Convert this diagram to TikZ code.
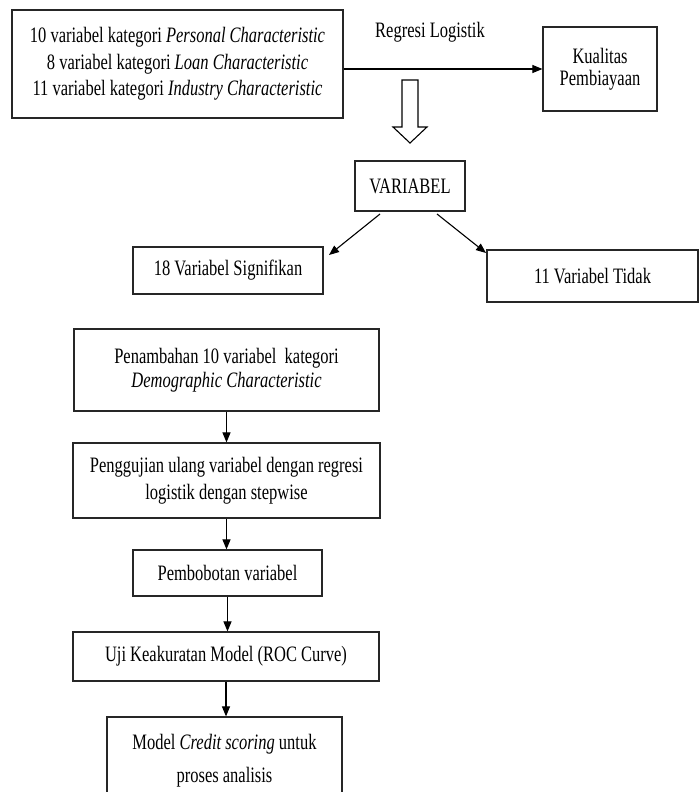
\documentclass[tikz,border=0pt]{standalone}
\usepackage{fontspec}
\setmainfont{Liberation Serif}[FakeStretch=0.75]
\usetikzlibrary{arrows.meta}
\begin{document}
\begin{tikzpicture}[x=1pt,y=-1pt,
  box/.style={draw=black!85, line width=1.2pt, align=center, inner sep=0pt,
    font=\fontsize{22}{26.5}\selectfont},
  arr/.style={line width=1.1pt, -{Triangle[length=10pt,width=8pt]}},
  lbl/.style={font=\fontsize{22}{26.5}\selectfont}]
\useasboundingbox (0,0) rectangle (700,792);
\fill[white] (0,0) rectangle (700,792);

\node[box, minimum width=331pt, minimum height=108pt] (box1) at (177.5,64)
  {10 variabel kategori \textit{Personal Characteristic}\\
   8 variabel kategori \textit{Loan Characteristic}\\
   11 variabel kategori \textit{Industry Characteristic}};
\node[box, minimum width=114pt, minimum height=84pt,
  font=\fontsize{22}{22}\selectfont] (kual) at (600,69)
  {Kualitas\\Pembiayaan};
\node[lbl] (reg) at (430,32) {Regresi Logistik};
\draw[arr] (box1.east |- kual) -- (kual.west);

% hollow block arrow
\draw[line width=1.1pt, fill=white]
  (402,80) -- (418,80) -- (418,127) -- (427,127) -- (410,143)
  -- (393,127) -- (402,127) -- cycle;

\node[box, minimum width=110pt, minimum height=50pt] (var) at (410,186) {VARIABEL};
\node[box, minimum width=190pt, minimum height=47pt] (sig) at (228,270.5)
  {18 Variabel Signifikan};
\node[box, minimum width=211pt, minimum height=52pt] (tid) at (592.5,276)
  {11 Variabel Tidak};
\coordinate (v1) at (380,214);
\coordinate (s1) at (329,255);
\coordinate (v2) at (437,214);
\coordinate (t1) at (486,253);
\draw[arr] (v1) -- (s1);
\draw[arr] (v2) -- (t1);

\node[box, minimum width=305pt, minimum height=82pt,
  font=\fontsize{22}{24}\selectfont] (pen) at (226.5,370)
  {Penambahan 10 variabel\ \ kategori\\\textit{Demographic Characteristic}};
\node[box, minimum width=307pt, minimum height=75pt,
  font=\fontsize{22}{27}\selectfont] (peng) at (226.5,480.5)
  {Penggujian ulang variabel dengan regresi\\logistik dengan stepwise};
\node[box, minimum width=189pt, minimum height=46pt] (bob) at (227.5,573)
  {Pembobotan variabel};
\node[box, minimum width=306pt, minimum height=49pt] (uji) at (226,656.5)
  {Uji Keakuratan Model (ROC Curve)};
\node[box, minimum width=235pt, minimum height=88pt,
  font=\fontsize{22}{33}\selectfont] (mod) at (224.5,761)
  {Model \textit{Credit scoring} untuk\\proses analisis};

\draw[arr] (pen.south) -- (peng.north);
\draw[arr] (peng.south) -- (peng.south |- bob.north);
\draw[arr] (bob.south) -- (bob.south |- uji.north);
\draw[arr] (uji.south) -- (uji.south |- mod.north);
\end{tikzpicture}
\end{document}
